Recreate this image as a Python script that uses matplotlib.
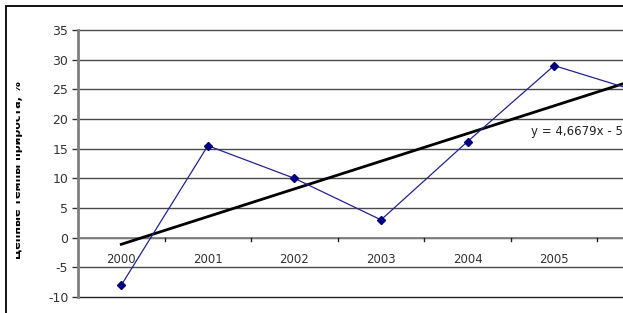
import numpy as np
import matplotlib
matplotlib.use("Agg")
import matplotlib.pyplot as plt
from matplotlib.patches import Rectangle
from matplotlib.transforms import Bbox, TransformedBbox

years = ["2000", "2001", "2002", "2003", "2004", "2005", "2006"]
values = [-8.0, 15.5, 10.0, 3.0, 16.2, 29.0, 24.5]
y_ticks = [-10, -5, 0, 5, 10, 15, 20, 25, 30, 35]
y_label = "Цепные темпы прироста, %"

W, H = 623, 313
fig = plt.figure(figsize=(W / 100, H / 100), dpi=100)
fig.patch.set_facecolor("white")

ax = fig.add_axes([78 / W, 16 / H, 606 / W, 267 / H])
x = np.arange(len(years))
ax.set_xlim(-0.5, len(years) - 0.5)
ax.set_ylim(-10, 35)

# gridlines
for yt in y_ticks:
    c = "#202020" if yt == -10 else "#4a4a4a"
    ax.axhline(yt, color=c, lw=1.0, zorder=1, clip_on=False)

# category axis at 0
ax.axhline(0, color="#808080", lw=1.3, zorder=2)
for b in np.arange(-0.5, len(years) + 0.5, 1.0)[1:]:
    ax.plot([b, b], [0, -0.6], color="#202020", lw=1.0, zorder=2, clip_on=False)
for xi, lab in zip(x, years):
    ax.text(xi, -3.6, lab, ha="center", va="center", fontsize=8.5, color="#333333")

# data series
ax.plot(x, values, color="#23238f", lw=0.9, marker="D", markersize=4.5,
        markerfacecolor="#000080", markeredgecolor="#000080", zorder=4)

# linear trend (Excel numbering 1..n)
xn = np.arange(1, len(years) + 1)
slope, intercept = np.polyfit(xn, values, 1)
ax.plot(x, slope * xn + intercept, color="black", lw=2.0, zorder=3)
sign = "-" if intercept < 0 else "+"
eq = f"y = {slope:.4f}x {sign} {abs(intercept):.4f}".replace(".", ",")
ax.text(4.73, 17.9, eq, ha="left", va="center", fontsize=8.5, color="#222222", zorder=5)

ax.set_xticks([])
ax.set_yticks(y_ticks)
ax.set_yticklabels([str(v) for v in y_ticks], fontsize=9, color="#333333")
ax.tick_params(axis="y", length=4, width=1, color="#333333", pad=3)
for s in ["top", "right", "bottom"]:
    ax.spines[s].set_visible(False)
ax.spines["left"].set_color("#808080")
ax.spines["left"].set_linewidth(2)
ax.spines["left"].set_zorder(6)
ax.patch.set_alpha(0)

# outer frame
fig.patches.append(Rectangle((6 / W, -0.2), 1.2, 1.2 - 6 / H, transform=fig.transFigure,
                             fill=False, edgecolor="black", lw=1.3))

t = fig.text(23 / W, 1 - 170 / H, y_label, rotation=90, ha="right", va="center",
             fontsize=8, fontweight="bold", color="black")
t.set_clip_on(True)
t.set_clip_box(TransformedBbox(Bbox([[16 / W, 0], [1, 1]]), fig.transFigure))

fig.savefig("out.png", dpi=100)
